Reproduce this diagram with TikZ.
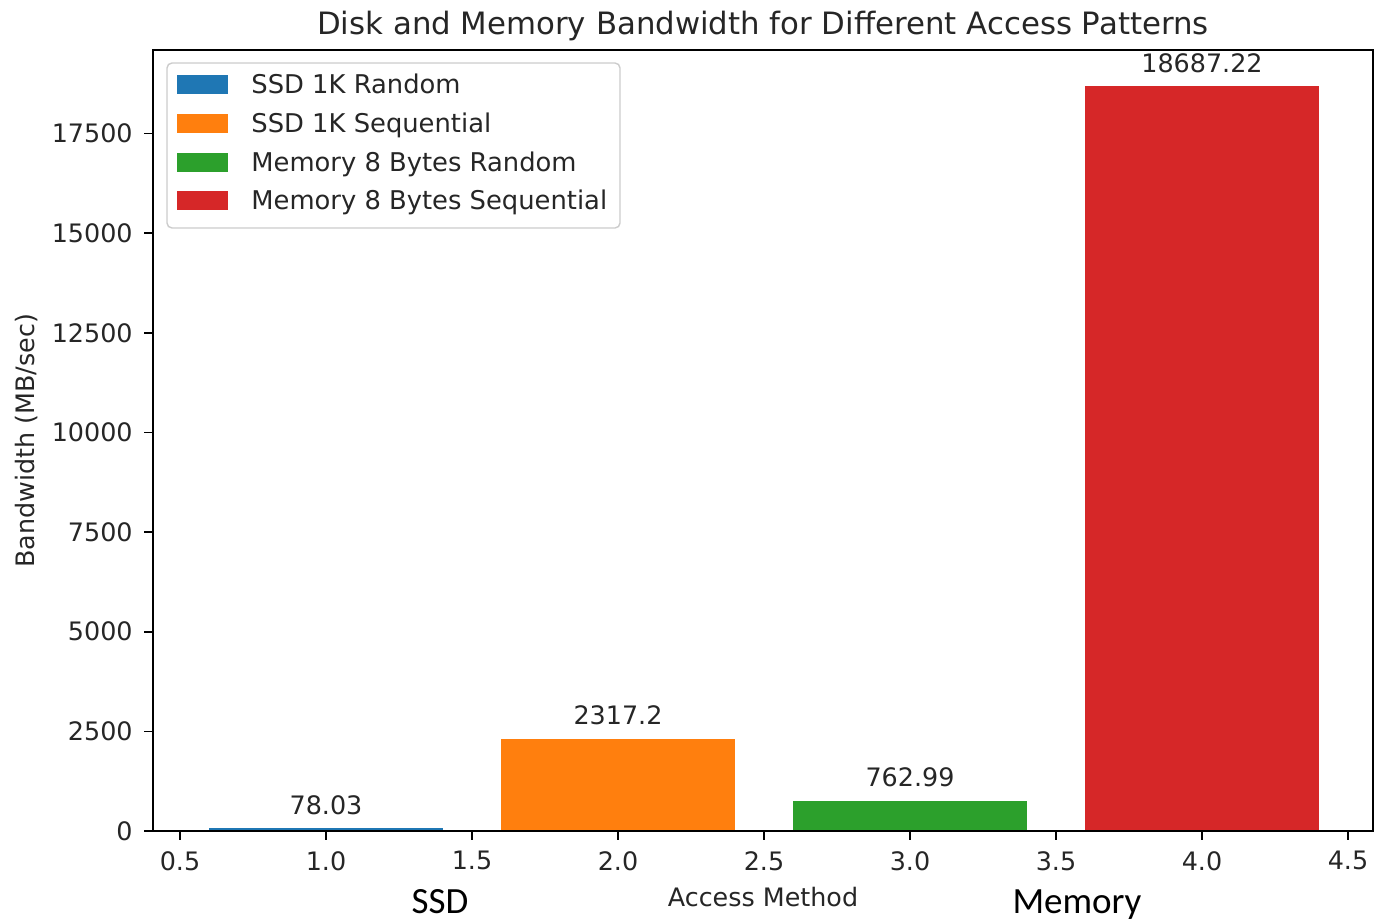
\documentclass[tikz,border=0pt]{standalone}
\usepackage{fontspec}
\setmainfont{DejaVu Sans}
\newfontfamily\calibrifont{Carlito}
\usepackage{tikz}
\usetikzlibrary{positioning}
\definecolor{tabblue}{HTML}{1F77B4}
\definecolor{taborange}{HTML}{FF7F0E}
\definecolor{tabgreen}{HTML}{2CA02C}
\definecolor{tabred}{HTML}{D62728}
\definecolor{legframe}{HTML}{CCCCCC}
\definecolor{inkfg}{HTML}{262626}
\tikzset{
  spine/.style={draw=black, line width=1pt},
  tickmark/.style={draw=black, line width=0.8pt},
  ticklbl/.style={font=\fontsize{12.7}{15}\selectfont\color{inkfg}, inner sep=0pt},
  barlbl/.style={font=\fontsize{12.7}{15}\selectfont\color{inkfg}, inner sep=0pt, anchor=south},
  axlbl/.style={font=\fontsize{12.7}{15}\selectfont\color{inkfg}, inner sep=0pt},
  legbox/.style={draw=legframe, fill=white, rounded corners=2.5pt, line width=0.7pt},
  legpatch/.style={minimum width=25.5pt, minimum height=9.5pt, inner sep=0pt},
  legtext/.style={font=\fontsize{12.9}{15}\selectfont\color{inkfg}, inner sep=0pt, anchor=base west},
  grouplbl/.style={font=\calibrifont\fontsize{18.5}{22}\selectfont, inner sep=0pt, anchor=base}
}
\begin{document}
\begin{tikzpicture}[x=0.5pt, y=-0.5pt]
  \useasboundingbox (0,0) rectangle (1374,921);
  % bars and value labels (x px = 34 + 292*x, y px = 831 - 39.852*v, v in thousands)
  \foreach \v/\lbl/\c/\col [count=\i] in {0.07803/78.03/1/tabblue, 2.3172/2317.2/2/taborange,
                                          0.76299/762.99/3/tabgreen, 18.68722/18687.22/4/tabred}{
    \pgfmathsetmacro\xl{34+292*(\c-0.4)}
    \pgfmathsetmacro\xr{34+292*(\c+0.4)}
    \pgfmathsetmacro\yt{831-39.852*\v}
    \fill[\col] (\xl,831) rectangle (\xr,\yt);
    \node[barlbl] (val\i) at ({34+292*\c},{\yt-13}) {\lbl};
  }
  % axes frame
  \draw[spine] (153,50) rectangle (1373,831);
  % x ticks
  \foreach \t [count=\i] in {0.5,1.0,1.5,2.0,2.5,3.0,3.5,4.0,4.5}{
    \draw[tickmark] ({34+292*\t},831) -- ({34+292*\t},840);
    \node[ticklbl, anchor=north] (xt\i) at ({34+292*\t},851) {\t};
  }
  % y ticks
  \foreach \t/\lbl [count=\i] in {0/0,2.5/2500,5/5000,7.5/7500,10/10000,12.5/12500,15/15000,17.5/17500}{
    \draw[tickmark] (144,{831-39.852*\t}) -- (153,{831-39.852*\t});
    \node[ticklbl, anchor=east] (yt\i) at (133,{831-39.852*\t}) {\lbl};
  }
  % titles
  \node[font=\fontsize{15.4}{18}\selectfont\color{inkfg}, inner sep=0pt, anchor=base]
    (title) at (763,34) {Disk and Memory Bandwidth for Different Access Patterns};
  \node[axlbl, rotate=90] (ylabel) at (27,441) {Bandwidth (MB/sec)};
  \node[axlbl] (xlabel) at (763,897) {Access Method};
  \node[grouplbl] (ssd) at (440,913) {SSD};
  \node[grouplbl] (mem) at (1077,913) {Memory};
  % legend
  \draw[legbox] (167,63) rectangle (620,228);
  \foreach \txt/\col [count=\i] in {SSD 1K Random/tabblue, SSD 1K Sequential/taborange,
                                    Memory 8 Bytes Random/tabgreen,
                                    Memory 8 Bytes Sequential/tabred}{
    \node[legpatch, fill=\col] (patch\i) at (202.5,{46+38.7*\i}) {};
    \node[legtext] (entry\i) at (251,{55+38.7*\i}) {\txt};
  }
\end{tikzpicture}
\end{document}
